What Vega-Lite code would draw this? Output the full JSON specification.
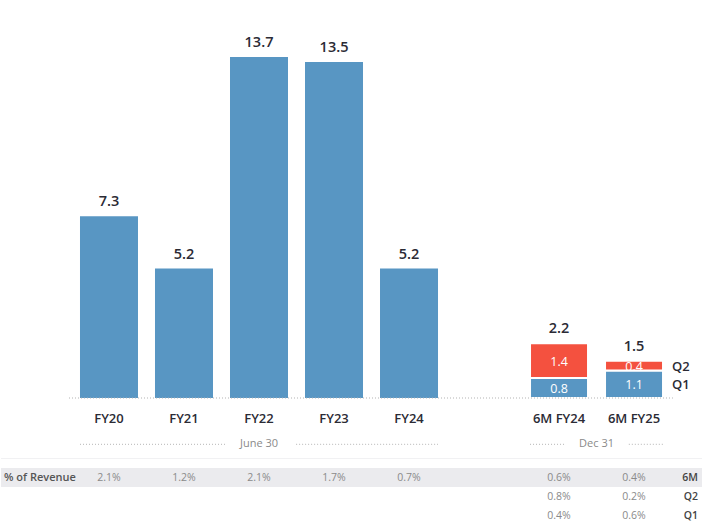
{
  "$schema": "https://vega.github.io/schema/vega-lite/v6.json",
  "padding": 0,
  "spacing": 0,
  "background": "white",
  "config": {"view": {"stroke": null}, "font": "Open Sans"},
  "datasets": {
    "annual": [
      {"cat": "FY20", "v": 7.3},
      {"cat": "FY21", "v": 5.2},
      {"cat": "FY22", "v": 13.7},
      {"cat": "FY23", "v": 13.5},
      {"cat": "FY24", "v": 5.2}
    ],
    "quarters": [
      {"cat": "6M FY24", "q": "Q1", "v": 0.8},
      {"cat": "6M FY24", "q": "Q2", "v": 1.4},
      {"cat": "6M FY25", "q": "Q1", "v": 1.1},
      {"cat": "6M FY25", "q": "Q2", "v": 0.4}
    ],
    "totals": [
      {"cat": "6M FY24", "v": 2.2},
      {"cat": "6M FY25", "v": 1.5}
    ],
    "groups": [
      {"from": "FY20", "to": "FY24", "anchor": "FY22", "label": "June 30", "row": "grp"},
      {"from": "6M FY24", "to": "6M FY25", "anchor": "6M FY24", "label": "Dec 31", "row": "grp"}
    ],
    "table": [
      {"cat": "FY20", "row": "6M", "pct": "2.1%"},
      {"cat": "FY21", "row": "6M", "pct": "1.2%"},
      {"cat": "FY22", "row": "6M", "pct": "2.1%"},
      {"cat": "FY23", "row": "6M", "pct": "1.7%"},
      {"cat": "FY24", "row": "6M", "pct": "0.7%"},
      {"cat": "6M FY24", "row": "6M", "pct": "0.6%"},
      {"cat": "6M FY25", "row": "6M", "pct": "0.4%"},
      {"cat": "6M FY24", "row": "Q2", "pct": "0.8%"},
      {"cat": "6M FY25", "row": "Q2", "pct": "0.2%"},
      {"cat": "6M FY24", "row": "Q1", "pct": "0.4%"},
      {"cat": "6M FY25", "row": "Q1", "pct": "0.6%"}
    ],
    "rowlabels": [
      {"cat": "6M FY25", "row": "6M"},
      {"cat": "6M FY25", "row": "Q2"},
      {"cat": "6M FY25", "row": "Q1"}
    ]
  },
  "vconcat": [
    {
      "width": 702,
      "height": 398,
      "layer": [
        {
          "data": {"name": "annual"},
          "mark": {"type": "bar", "color": "#5896c3"},
          "encoding": {
            "x": {
              "field": "cat", "type": "nominal",
              "scale": {"domain": ["FY20", "FY21", "FY22", "FY23", "FY24", "gap", "6M FY24", "6M FY25"], "paddingInner": 0.2267, "paddingOuter": 0.793, "align": 0.664},
              "axis": {"title": null, "ticks": false, "domain": false, "labelPadding": 14, "labelFontSize": 13, "labelFontWeight": 600, "labelColor": "#2b2b35", "labelFont": "Open Sans", "labelAngle": 0, "labelExpr": "datum.value == 'gap' ? '' : datum.value", "minExtent": 32, "maxExtent": 32}
            },
            "y": {"field": "v", "type": "quantitative", "scale": {"domain": [0, 15.99], "nice": false}, "axis": null}
          }
        },
        {
          "data": {"name": "annual"},
          "mark": {"type": "text", "dy": -10, "baseline": "alphabetic", "fontSize": 14.5, "fontWeight": 600, "color": "#2b2b35"},
          "encoding": {
            "x": {"field": "cat", "type": "nominal", "axis": {"title": null, "ticks": false, "domain": false, "labelPadding": 14, "labelFontSize": 13, "labelFontWeight": 600, "labelColor": "#2b2b35", "labelFont": "Open Sans", "labelAngle": 0, "labelExpr": "datum.value == 'gap' ? '' : datum.value", "minExtent": 32, "maxExtent": 32}},
            "y": {"field": "v", "type": "quantitative", "axis": null},
            "text": {"field": "v", "type": "quantitative", "format": ".1f"}
          }
        },
        {
          "data": {"name": "quarters"},
          "mark": {"type": "bar", "stroke": "white", "strokeWidth": 2},
          "encoding": {
            "x": {"field": "cat", "type": "nominal", "axis": {"title": null, "ticks": false, "domain": false, "labelPadding": 14, "labelFontSize": 13, "labelFontWeight": 600, "labelColor": "#2b2b35", "labelFont": "Open Sans", "labelAngle": 0, "labelExpr": "datum.value == 'gap' ? '' : datum.value", "minExtent": 32, "maxExtent": 32}},
            "y": {"field": "v", "type": "quantitative", "stack": "zero", "axis": null},
            "color": {"field": "q", "type": "nominal", "scale": {"domain": ["Q1", "Q2"], "range": ["#5896c3", "#f4513f"]}, "legend": null},
            "order": {"field": "q", "type": "nominal"}
          }
        },
        {
          "data": {"name": "quarters"},
          "transform": [
            {"stack": "v", "groupby": ["cat"], "sort": [{"field": "q"}], "as": ["v0", "v1"]},
            {"calculate": "(datum.v0 + datum.v1) / 2", "as": "vmid"}
          ],
          "mark": {"type": "text", "color": "white", "fontSize": 12.5, "baseline": "middle", "dy": 1},
          "encoding": {
            "x": {"field": "cat", "type": "nominal", "axis": {"title": null, "ticks": false, "domain": false, "labelPadding": 14, "labelFontSize": 13, "labelFontWeight": 600, "labelColor": "#2b2b35", "labelFont": "Open Sans", "labelAngle": 0, "labelExpr": "datum.value == 'gap' ? '' : datum.value", "minExtent": 32, "maxExtent": 32}},
            "y": {"field": "vmid", "type": "quantitative", "axis": null},
            "text": {"field": "v", "type": "quantitative", "format": ".1f"}
          }
        },
        {
          "data": {"name": "quarters"},
          "transform": [
            {"stack": "v", "groupby": ["cat"], "sort": [{"field": "q"}], "as": ["v0", "v1"]},
            {"calculate": "(datum.v0 + datum.v1) / 2", "as": "vmid"},
            {"filter": "datum.cat == '6M FY25'"}
          ],
          "mark": {"type": "text", "align": "left", "dx": 38, "fontSize": 13, "fontWeight": 600, "color": "#2b2b35", "baseline": "middle", "dy": 1},
          "encoding": {
            "x": {"field": "cat", "type": "nominal", "axis": {"title": null, "ticks": false, "domain": false, "labelPadding": 14, "labelFontSize": 13, "labelFontWeight": 600, "labelColor": "#2b2b35", "labelFont": "Open Sans", "labelAngle": 0, "labelExpr": "datum.value == 'gap' ? '' : datum.value", "minExtent": 32, "maxExtent": 32}},
            "y": {"field": "vmid", "type": "quantitative", "axis": null},
            "text": {"field": "q", "type": "nominal"}
          }
        },
        {
          "data": {"name": "totals"},
          "mark": {"type": "text", "dy": -10, "baseline": "alphabetic", "fontSize": 14.5, "fontWeight": 600, "color": "#2b2b35"},
          "encoding": {
            "x": {"field": "cat", "type": "nominal", "axis": {"title": null, "ticks": false, "domain": false, "labelPadding": 14, "labelFontSize": 13, "labelFontWeight": 600, "labelColor": "#2b2b35", "labelFont": "Open Sans", "labelAngle": 0, "labelExpr": "datum.value == 'gap' ? '' : datum.value", "minExtent": 32, "maxExtent": 32}},
            "y": {"field": "v", "type": "quantitative", "axis": null},
            "text": {"field": "v", "type": "quantitative", "format": ".1f"}
          }
        },
        {
          "data": {"values": [{"from": "FY20", "to": "6M FY25"}]},
          "mark": {"type": "rule", "strokeDash": [1, 2], "color": "#b0b0b0", "strokeWidth": 1.2},
          "encoding": {
            "x": {"field": "from", "type": "nominal", "bandPosition": -0.19, "axis": {"title": null, "ticks": false, "domain": false, "labelPadding": 14, "labelFontSize": 13, "labelFontWeight": 600, "labelColor": "#2b2b35", "labelFont": "Open Sans", "labelAngle": 0, "labelExpr": "datum.value == 'gap' ? '' : datum.value", "minExtent": 32, "maxExtent": 32}},
            "x2": {"field": "to", "bandPosition": 1.17},
            "y": {"datum": 0}
          }
        }
      ]
    },
    {
      "width": 702,
      "height": {"step": 19},
      "layer": [
        {
          "data": {"values": [{"row": "6M"}]},
          "mark": {"type": "rect", "color": "#ebebee"},
          "encoding": {
            "y": {"field": "row", "type": "nominal", "scale": {"domain": ["grp", "sp", "6M", "Q2", "Q1"], "paddingInner": 0, "paddingOuter": 0}, "axis": null}
          }
        },
        {
          "data": {"values": [{"row": "sp"}]},
          "mark": {"type": "rule", "color": "#f1f1f3"},
          "encoding": {
            "y": {"field": "row", "type": "nominal", "axis": null}
          }
        },
        {
          "data": {"name": "groups"},
          "transform": [{"filter": "datum.label == 'June 30'"}],
          "mark": {"type": "rule", "strokeDash": [1, 2], "color": "#c4c4c4", "strokeWidth": 1.2},
          "encoding": {
            "x": {
              "field": "from", "type": "nominal", "bandPosition": 0,
              "scale": {"domain": ["FY20", "FY21", "FY22", "FY23", "FY24", "gap", "6M FY24", "6M FY25"], "paddingInner": 0.2267, "paddingOuter": 0.793, "align": 0.664},
              "axis": null
            },
            "x2": {"field": "anchor", "bandPosition": -0.07},
            "y": {"field": "row", "type": "nominal", "bandPosition": 0.76, "axis": null}
          }
        },
        {
          "data": {"name": "groups"},
          "transform": [{"filter": "datum.label == 'June 30'"}],
          "mark": {"type": "rule", "strokeDash": [1, 2], "color": "#c4c4c4", "strokeWidth": 1.2},
          "encoding": {
            "x": {"field": "anchor", "type": "nominal", "bandPosition": 1.14, "axis": null},
            "x2": {"field": "to", "bandPosition": 1},
            "y": {"field": "row", "type": "nominal", "bandPosition": 0.76, "axis": null}
          }
        },
        {
          "data": {"name": "groups"},
          "transform": [{"filter": "datum.label == 'Dec 31'"}],
          "mark": {"type": "rule", "strokeDash": [1, 2], "color": "#c4c4c4", "strokeWidth": 1.2},
          "encoding": {
            "x": {"field": "from", "type": "nominal", "bandPosition": 0, "axis": null},
            "x2": {"field": "from", "bandPosition": 0.62},
            "y": {"field": "row", "type": "nominal", "bandPosition": 0.76, "axis": null}
          }
        },
        {
          "data": {"name": "groups"},
          "transform": [{"filter": "datum.label == 'Dec 31'"}],
          "mark": {"type": "rule", "strokeDash": [1, 2], "color": "#c4c4c4", "strokeWidth": 1.2},
          "encoding": {
            "x": {"field": "to", "type": "nominal", "bandPosition": 0.41, "axis": null},
            "x2": {"field": "to", "bandPosition": 1},
            "y": {"field": "row", "type": "nominal", "bandPosition": 0.76, "axis": null}
          }
        },
        {
          "data": {"name": "groups"},
          "transform": [{"filter": "datum.label == 'June 30'"}],
          "mark": {"type": "text", "color": "#8a8a8a", "fontSize": 11, "baseline": "middle"},
          "encoding": {
            "x": {"field": "anchor", "type": "nominal", "axis": null},
            "y": {"field": "row", "type": "nominal", "bandPosition": 0.76, "axis": null},
            "text": {"field": "label"}
          }
        },
        {
          "data": {"name": "groups"},
          "transform": [{"filter": "datum.label == 'Dec 31'"}],
          "mark": {"type": "text", "color": "#8a8a8a", "fontSize": 11, "baseline": "middle"},
          "encoding": {
            "x": {"field": "anchor", "type": "nominal", "bandPosition": 1.147, "axis": null},
            "y": {"field": "row", "type": "nominal", "bandPosition": 0.76, "axis": null},
            "text": {"field": "label"}
          }
        },
        {
          "data": {"name": "table"},
          "mark": {"type": "text", "color": "#8a8a8a", "fontSize": 10.5, "baseline": "middle"},
          "encoding": {
            "x": {"field": "cat", "type": "nominal", "axis": null},
            "y": {"field": "row", "type": "nominal", "axis": null},
            "text": {"field": "pct"}
          }
        },
        {
          "data": {"values": [{"cat": "FY20", "row": "6M", "label": "% of Revenue"}]},
          "mark": {"type": "text", "color": "#555555", "fontSize": 11, "fontWeight": 600, "align": "left", "dx": -105, "baseline": "middle"},
          "encoding": {
            "x": {"field": "cat", "type": "nominal", "axis": null},
            "y": {"field": "row", "type": "nominal", "axis": null},
            "text": {"field": "label"}
          }
        },
        {
          "data": {"name": "rowlabels"},
          "mark": {"type": "text", "color": "#444444", "fontSize": 10.5, "fontWeight": 600, "align": "right", "dx": 64, "baseline": "middle"},
          "encoding": {
            "x": {"field": "cat", "type": "nominal", "axis": null},
            "y": {"field": "row", "type": "nominal", "axis": null},
            "text": {"field": "row"}
          }
        }
      ]
    }
  ]
}
